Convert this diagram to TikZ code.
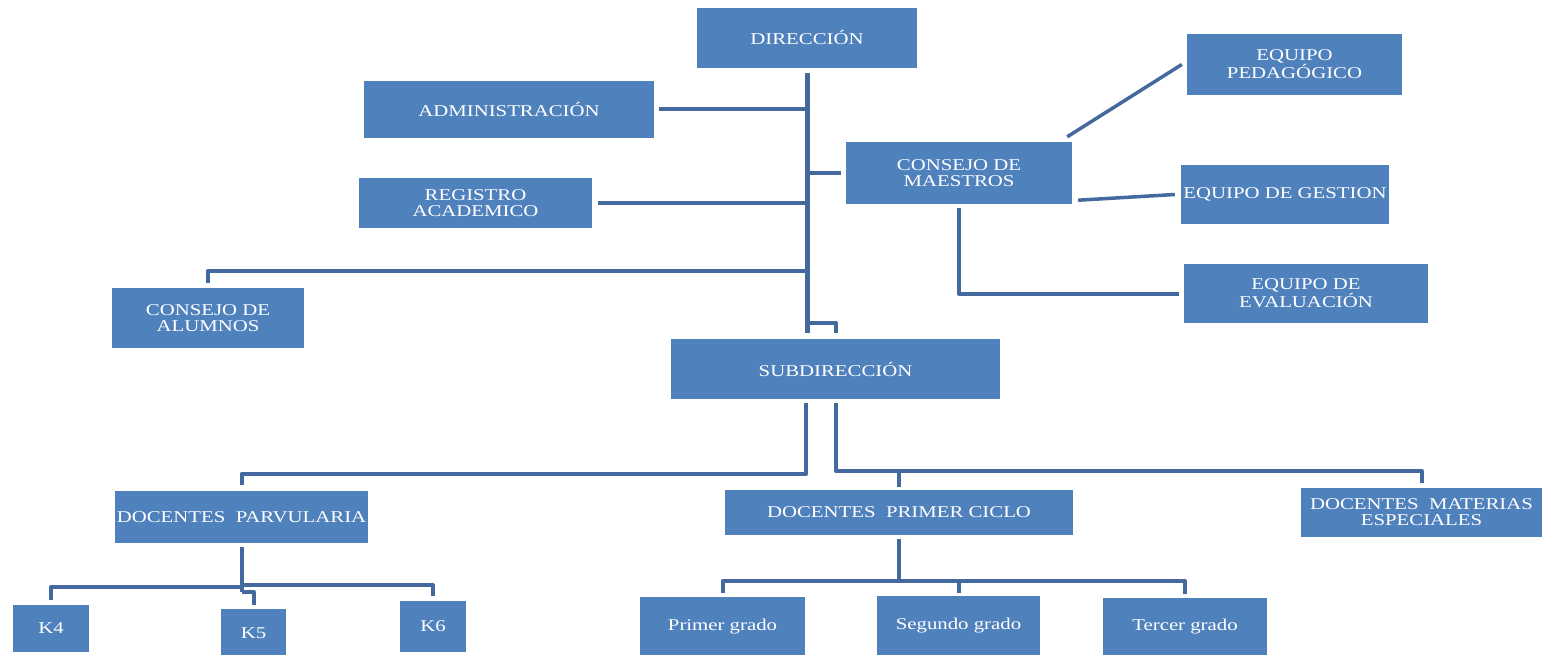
\documentclass[tikz,border=0pt]{standalone}
\usepackage{fontspec}
\setmainfont{Liberation Serif}[FakeStretch=1.26]
\definecolor{boxblue}{HTML}{4F81BD}
\definecolor{lineblue}{HTML}{44699E}
\newcommand\orgbox[6]{%
  \node[orgnode, minimum width={#4-#2}, minimum height={#5-#3}] (#1) at ({(#2+#4)/2},{(#3+#5)/2}) {#6};}
\tikzset{
  orgnode/.style={rectangle, fill=boxblue, text=white, inner sep=0pt, align=center,
    font=\fontsize{16.5}{16}\selectfont},
  conn/.style={draw=lineblue, line width=4pt, line join=round},
  trunkline/.style={draw=lineblue, line width=5pt}
}
\begin{document}
\begin{tikzpicture}[x=1pt,y=-1pt]
\useasboundingbox[fill=white] (0,0) rectangle (1546,655);
% boxes
\orgbox{dir}{697}{8}{917}{68}{DIRECCIÓN}
\orgbox{adm}{364}{81}{654}{138}{ADMINISTRACIÓN}
\orgbox{reg}{359}{178}{592}{228}{REGISTRO\\ACADEMICO}
\orgbox{alu}{112}{288}{304}{348}{CONSEJO DE\\ALUMNOS}
\orgbox{cm}{846}{142}{1072}{204}{CONSEJO DE\\MAESTROS}
\orgbox{ped}{1187}{34}{1402}{95}{EQUIPO\\PEDAGÓGICO}
\orgbox{ges}{1181}{165}{1389}{224}{EQUIPO DE GESTION}
\orgbox{eva}{1184}{264}{1428}{323}{EQUIPO DE\\EVALUACIÓN}
\orgbox{sub}{671}{339}{1000}{399}{SUBDIRECCIÓN}
\orgbox{dpa}{115}{491}{368}{543}{DOCENTES\ \ PARVULARIA}
\orgbox{dpc}{725}{490}{1073}{535}{DOCENTES\ \ PRIMER CICLO}
\orgbox{dme}{1301}{488}{1542}{537}{DOCENTES\ \ MATERIAS\\ESPECIALES}
\orgbox{k4}{13}{605}{89}{652}{K4}
\orgbox{k5}{221}{609}{286}{658}{K5}
\orgbox{k6}{400}{601}{466}{652}{K6}
\orgbox{p1}{640}{597}{805}{656}{Primer grado}
\orgbox{p2}{877}{596}{1040}{656}{Segundo grado}
\orgbox{p3}{1103}{598}{1267}{656}{Tercer grado}
% connectors from DIRECCION
\draw[trunkline] (dir.south) ++(0,5) -- (807,333);
\draw[conn] (807,323) -| ([yshift=6pt]sub.north -| 836,0);
\draw[conn, shorten <=5pt] (adm.east) -- (807,109.5);
\draw[conn, shorten >=5pt] (807,173) -- (cm.west);
\draw[conn, shorten <=6pt] (reg.east) -- (807,203);
\draw[conn] (807,271) -| ([yshift=5pt]alu.north);
% from CONSEJO DE MAESTROS
\draw[conn, line width=3.5pt] ([shift={(-5pt,5pt)}]cm.north east) -- ([xshift=-5pt]ped.west);
\draw[conn, line width=3.5pt] ([shift={(6pt,4pt)}]cm.south east) -- ([xshift=-6pt]ges.west);
\draw[conn] ([yshift=-4pt]cm.south) |- ([xshift=-5pt]eva.west);
% from SUBDIRECCION
\draw[conn] (806,403) -- (806,474) -| ([yshift=6pt]dpa.north);
\draw[conn] (836,403) -- (836,471) -| ([yshift=5pt]dme.north);
\draw[conn] (899,471) -- ([yshift=3pt]dpc.north);
% from DOCENTES PARVULARIA
\draw[conn] ([yshift=-4pt]dpa.south) -- (241.5,592);
\draw[conn] (241.5,587) -| ([yshift=5pt]k4.north);
\draw[conn] (241.5,585) -| ([yshift=5pt]k6.north);
\draw[conn] (241.5,592) -| ([yshift=4pt]k5.north);
% from DOCENTES PRIMER CICLO
\draw[conn] ([yshift=-4pt]dpc.south) -- (899,581);
\draw[conn] (899,581) -| ([yshift=4pt]p1.north);
\draw[conn] (899,581) -| ([yshift=4pt]p3.north);
\draw[conn] (958.5,581) -- ([yshift=3pt]p2.north);
\end{tikzpicture}
\end{document}
